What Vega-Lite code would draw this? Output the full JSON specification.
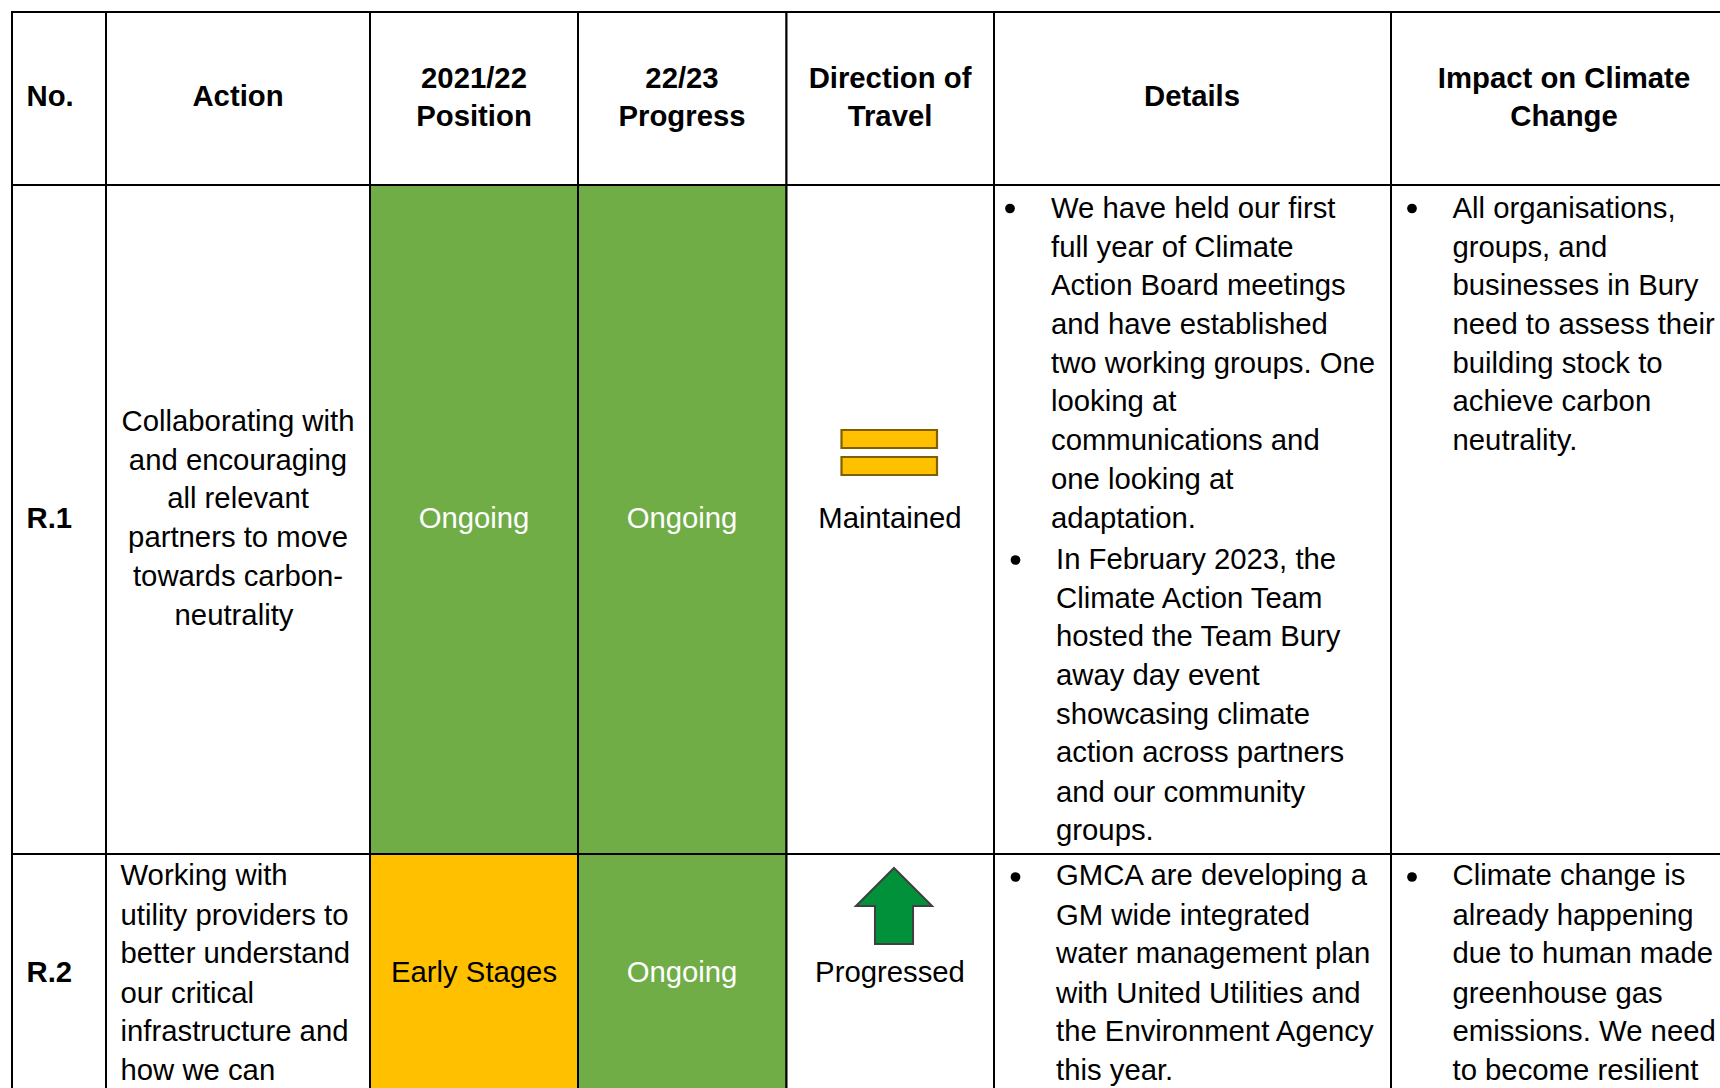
{
"$schema":"https://vega.github.io/schema/vega-lite/v6.json",
"autosize":{"type":"fit","contains":"padding"},
"width":1720,"height":1088,"padding":0,"background":"white",
"config":{"view":{"stroke":null},"text":{"font":"Liberation Sans","fontSize":29.3,"baseline":"middle","dy":0.7}},
"datasets":{
"cells":[
{"row":"Header","column":"No.","left":12,"right":106,"top":12,"bottom":185,"status":"None"},
{"row":"Header","column":"Action","left":106,"right":370,"top":12,"bottom":185,"status":"None"},
{"row":"Header","column":"2021/22 Position","left":370,"right":578,"top":12,"bottom":185,"status":"None"},
{"row":"Header","column":"22/23 Progress","left":578,"right":786.5,"top":12,"bottom":185,"status":"None"},
{"row":"Header","column":"Direction of Travel","left":786.5,"right":994,"top":12,"bottom":185,"status":"None"},
{"row":"Header","column":"Details","left":994,"right":1391,"top":12,"bottom":185,"status":"None"},
{"row":"Header","column":"Impact on Climate Change","left":1391,"right":1760,"top":12,"bottom":185,"status":"None"},
{"row":"R.1","column":"No.","left":12,"right":106,"top":185,"bottom":854,"status":"None"},
{"row":"R.1","column":"Action","left":106,"right":370,"top":185,"bottom":854,"status":"None"},
{"row":"R.1","column":"2021/22 Position","left":370,"right":578,"top":185,"bottom":854,"status":"Ongoing"},
{"row":"R.1","column":"22/23 Progress","left":578,"right":786.5,"top":185,"bottom":854,"status":"Ongoing"},
{"row":"R.1","column":"Direction of Travel","left":786.5,"right":994,"top":185,"bottom":854,"status":"None"},
{"row":"R.1","column":"Details","left":994,"right":1391,"top":185,"bottom":854,"status":"None"},
{"row":"R.1","column":"Impact on Climate Change","left":1391,"right":1760,"top":185,"bottom":854,"status":"None"},
{"row":"R.2","column":"No.","left":12,"right":106,"top":854,"bottom":1130,"status":"None"},
{"row":"R.2","column":"Action","left":106,"right":370,"top":854,"bottom":1130,"status":"None"},
{"row":"R.2","column":"2021/22 Position","left":370,"right":578,"top":854,"bottom":1130,"status":"Early Stages"},
{"row":"R.2","column":"22/23 Progress","left":578,"right":786.5,"top":854,"bottom":1130,"status":"Ongoing"},
{"row":"R.2","column":"Direction of Travel","left":786.5,"right":994,"top":854,"bottom":1130,"status":"None"},
{"row":"R.2","column":"Details","left":994,"right":1391,"top":854,"bottom":1130,"status":"None"},
{"row":"R.2","column":"Impact on Climate Change","left":1391,"right":1760,"top":854,"bottom":1130,"status":"None"}
],
"maintained":[
{"symbol":"Maintained","left":841.5,"right":937,"top":430,"bottom":448},
{"symbol":"Maintained","left":841.5,"right":937,"top":457,"bottom":475}
],
"progressed":[{"symbol":"Progressed","across":894,"down":906}],
"bullets":[
{"column":"Details","across":1010,"down":208.5},
{"column":"Details","across":1015.5,"down":560},
{"column":"Details","across":1015.5,"down":877},
{"column":"Impact","across":1412,"down":208.5},
{"column":"Impact","across":1412,"down":877}
],
"texts":[
{"role":"headLeft","text":"No.","across":26.5,"down":96.5},
{"role":"head","text":"Action","across":238,"down":96.5},
{"role":"head","text":"2021/22","across":474,"down":78},
{"role":"head","text":"Position","across":474,"down":116.5},
{"role":"head","text":"22/23","across":682,"down":78},
{"role":"head","text":"Progress","across":682,"down":116.5},
{"role":"head","text":"Direction of","across":890,"down":78},
{"role":"head","text":"Travel","across":890,"down":116.5},
{"role":"head","text":"Details","across":1192,"down":96.5},
{"role":"head","text":"Impact on Climate","across":1564,"down":78},
{"role":"head","text":"Change","across":1564,"down":116.5},
{"role":"headLeft","text":"R.1","across":26.5,"down":518},
{"role":"headLeft","text":"R.2","across":26.5,"down":972},
{"role":"centre","text":"Collaborating with","across":238,"down":421},
{"role":"centre","text":"and encouraging","across":238,"down":460},
{"role":"centre","text":"all relevant","across":238,"down":498},
{"role":"centre","text":"partners to move","across":238,"down":537.5},
{"role":"centre","text":"towards carbon-","across":238,"down":576},
{"role":"centre","text":"neutrality","across":234,"down":615.5},
{"role":"onGreen","text":"Ongoing","across":474,"down":518},
{"role":"onGreen","text":"Ongoing","across":682,"down":518},
{"role":"centre","text":"Maintained","across":890,"down":518},
{"role":"centre","text":"Early Stages","across":474,"down":972},
{"role":"onGreen","text":"Ongoing","across":682,"down":972},
{"role":"centre","text":"Progressed","across":890,"down":972},
{"role":"left","text":"Working with","across":120.5,"down":875.5},
{"role":"left","text":"utility providers to","across":120.5,"down":915},
{"role":"left","text":"better understand","across":120.5,"down":953.5},
{"role":"left","text":"our critical","across":120.5,"down":993},
{"role":"left","text":"infrastructure and","across":120.5,"down":1031},
{"role":"left","text":"how we can","across":120.5,"down":1070},
{"role":"left","text":"We have held our first","across":1051,"down":208.5},
{"role":"left","text":"full year of Climate","across":1051,"down":247},
{"role":"left","text":"Action Board meetings","across":1051,"down":285},
{"role":"left","text":"and have established","across":1051,"down":324.5},
{"role":"left","text":"two working groups. One","across":1051,"down":363},
{"role":"left","text":"looking at","across":1051,"down":401.5},
{"role":"left","text":"communications and","across":1051,"down":440},
{"role":"left","text":"one looking at","across":1051,"down":479.5},
{"role":"left","text":"adaptation.","across":1051,"down":518},
{"role":"left","text":"In February 2023, the","across":1056,"down":559.5},
{"role":"left","text":"Climate Action Team","across":1056,"down":598},
{"role":"left","text":"hosted the Team Bury","across":1056,"down":636},
{"role":"left","text":"away day event","across":1056,"down":675.5},
{"role":"left","text":"showcasing climate","across":1056,"down":714},
{"role":"left","text":"action across partners","across":1056,"down":752.5},
{"role":"left","text":"and our community","across":1056,"down":792},
{"role":"left","text":"groups.","across":1056,"down":830.5},
{"role":"left","text":"GMCA are developing a","across":1056,"down":875.5},
{"role":"left","text":"GM wide integrated","across":1056,"down":915},
{"role":"left","text":"water management plan","across":1056,"down":953.5},
{"role":"left","text":"with United Utilities and","across":1056,"down":993},
{"role":"left","text":"the Environment Agency","across":1056,"down":1031},
{"role":"left","text":"this year.","across":1056,"down":1070},
{"role":"left","text":"All organisations,","across":1452.5,"down":208.5},
{"role":"left","text":"groups, and","across":1452.5,"down":247},
{"role":"left","text":"businesses in Bury","across":1452.5,"down":285},
{"role":"left","text":"need to assess their","across":1452.5,"down":324.5},
{"role":"left","text":"building stock to","across":1452.5,"down":363},
{"role":"left","text":"achieve carbon","across":1452.5,"down":401.5},
{"role":"left","text":"neutrality.","across":1452.5,"down":440},
{"role":"left","text":"Climate change is","across":1452.5,"down":875.5},
{"role":"left","text":"already happening","across":1452.5,"down":915},
{"role":"left","text":"due to human made","across":1452.5,"down":953.5},
{"role":"left","text":"greenhouse gas","across":1452.5,"down":993},
{"role":"left","text":"emissions. We need","across":1452.5,"down":1031},
{"role":"left","text":"to become resilient","across":1452.5,"down":1070}
]
},
"layer":[
{"data":{"name":"cells"},
"mark":{"type":"rect","stroke":"#000000","strokeWidth":2,"clip":true},
"encoding":{
"x":{"field":"left","type":"quantitative","axis":null,"scale":{"domain":[0,1720],"nice":false,"zero":false}},
"x2":{"field":"right"},
"y":{"field":"top","type":"quantitative","axis":null,"scale":{"domain":[1088,0],"nice":false,"zero":false}},
"y2":{"field":"bottom"},
"fill":{"field":"status","type":"nominal","legend":null,"scale":{"domain":["None","Ongoing","Early Stages"],"range":["#FFFFFF","#70AD47","#FFC000"]}}
}},
{"data":{"name":"maintained"},
"mark":{"type":"rect","fill":"#FFC000","stroke":"#7F6000","strokeWidth":2.2},
"encoding":{
"x":{"field":"left","type":"quantitative","axis":null,"scale":{"domain":[0,1720],"nice":false,"zero":false}},
"x2":{"field":"right"},
"y":{"field":"top","type":"quantitative","axis":null,"scale":{"domain":[1088,0],"nice":false,"zero":false}},
"y2":{"field":"bottom"}
}},
{"data":{"name":"progressed"},
"mark":{"type":"point","filled":true,"fill":"#00913A","fillOpacity":1,"stroke":"#404040","strokeWidth":2,"strokeOpacity":1,"opacity":1,"size":5800,"shape":"M0,-1L1,0L0.5,0L0.5,1L-0.5,1L-0.5,0L-1,0Z"},
"encoding":{
"x":{"field":"across","type":"quantitative","axis":null,"scale":{"domain":[0,1720],"nice":false,"zero":false}},
"y":{"field":"down","type":"quantitative","axis":null,"scale":{"domain":[1088,0],"nice":false,"zero":false}}
}},
{"data":{"name":"bullets"},
"mark":{"type":"point","filled":true,"fill":"#000000","opacity":1,"shape":"circle","size":95},
"encoding":{
"x":{"field":"across","type":"quantitative","axis":null,"scale":{"domain":[0,1720],"nice":false,"zero":false}},
"y":{"field":"down","type":"quantitative","axis":null,"scale":{"domain":[1088,0],"nice":false,"zero":false}}
}},
{"data":{"name":"texts"},"transform":[{"filter":"datum.role==='head'"}],
"mark":{"type":"text","align":"center","fontWeight":"bold","fill":"#000000"},
"encoding":{
"x":{"field":"across","type":"quantitative","axis":null,"scale":{"domain":[0,1720],"nice":false,"zero":false}},
"y":{"field":"down","type":"quantitative","axis":null,"scale":{"domain":[1088,0],"nice":false,"zero":false}},
"text":{"field":"text"}
}},
{"data":{"name":"texts"},"transform":[{"filter":"datum.role==='headLeft'"}],
"mark":{"type":"text","align":"left","fontWeight":"bold","fill":"#000000"},
"encoding":{
"x":{"field":"across","type":"quantitative","axis":null,"scale":{"domain":[0,1720],"nice":false,"zero":false}},
"y":{"field":"down","type":"quantitative","axis":null,"scale":{"domain":[1088,0],"nice":false,"zero":false}},
"text":{"field":"text"}
}},
{"data":{"name":"texts"},"transform":[{"filter":"datum.role==='centre'"}],
"mark":{"type":"text","align":"center","fill":"#000000"},
"encoding":{
"x":{"field":"across","type":"quantitative","axis":null,"scale":{"domain":[0,1720],"nice":false,"zero":false}},
"y":{"field":"down","type":"quantitative","axis":null,"scale":{"domain":[1088,0],"nice":false,"zero":false}},
"text":{"field":"text"}
}},
{"data":{"name":"texts"},"transform":[{"filter":"datum.role==='onGreen'"}],
"mark":{"type":"text","align":"center","fill":"#FFFFFF"},
"encoding":{
"x":{"field":"across","type":"quantitative","axis":null,"scale":{"domain":[0,1720],"nice":false,"zero":false}},
"y":{"field":"down","type":"quantitative","axis":null,"scale":{"domain":[1088,0],"nice":false,"zero":false}},
"text":{"field":"text"}
}},
{"data":{"name":"texts"},"transform":[{"filter":"datum.role==='left'"}],
"mark":{"type":"text","align":"left","fill":"#000000"},
"encoding":{
"x":{"field":"across","type":"quantitative","axis":null,"scale":{"domain":[0,1720],"nice":false,"zero":false}},
"y":{"field":"down","type":"quantitative","axis":null,"scale":{"domain":[1088,0],"nice":false,"zero":false}},
"text":{"field":"text"}
}}
]
}
